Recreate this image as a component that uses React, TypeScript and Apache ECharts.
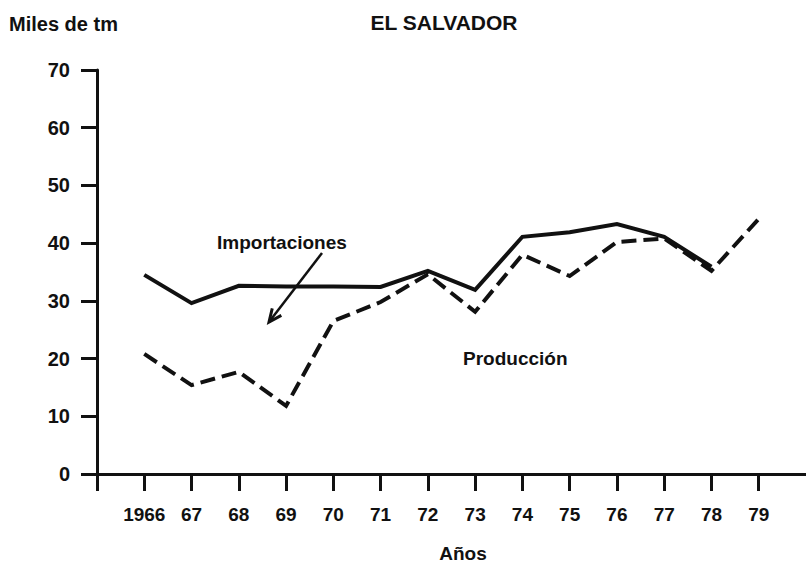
import React, { useEffect, useRef } from "react";
import * as echarts from "echarts";

const years = [1966, 1967, 1968, 1969, 1970, 1971, 1972, 1973, 1974, 1975, 1976, 1977, 1978, 1979];
const yearLabels = ["1966", "67", "68", "69", "70", "71", "72", "73", "74", "75", "76", "77", "78", "79"];
const tickYears = [1965, ...years];
const importaciones = [34.5, 29.6, 32.6, 32.5, 32.5, 32.4, 35.2, 31.9, 41.1, 41.9, 43.3, 41.1, 35.9, null];
const produccion = [20.8, 15.4, 17.7, 11.8, 26.5, 29.8, 34.6, 28.1, 38.0, 34.3, 40.2, 40.8, 35.2, 44.2];
const yTicks = [0, 10, 20, 30, 40, 50, 60, 70];

const FONT = "'Liberation Sans', Arial, Helvetica, sans-serif";
const INK = "#111";

export default function App() {
  const ref = useRef<HTMLDivElement>(null);
  useEffect(() => {
    document.body.style.margin = "0";
    const chart = echarts.init(ref.current!, null, { renderer: "svg" });

    // arrow geometry for the annotation
    const ax0 = 322, ay0 = 253, ax1 = 269, ay1 = 322;
    const ang = Math.atan2(ay1 - ay0, ax1 - ax0);
    const hl = 14, spread = 0.42;
    const w1 = [ax1 - hl * Math.cos(ang - spread), ay1 - hl * Math.sin(ang - spread)];
    const w2 = [ax1 - hl * Math.cos(ang + spread), ay1 - hl * Math.sin(ang + spread)];

    const textStyle = (t: string, x: number, y: number, align = "left", size = 19) => ({
      type: "text",
      x,
      y,
      style: {
        text: t,
        fill: INK,
        font: `bold ${size}px ${FONT}`,
        textAlign: align,
        textVerticalAlign: "middle",
      },
    });

    chart.setOption({
      animation: false,
      backgroundColor: "#fff",
      grid: { left: 97, right: 0, top: 70, bottom: 90, containLabel: false },
      xAxis: {
        type: "value",
        min: 1965,
        max: 1980,
        interval: 1,
        splitLine: { show: false },
        axisLine: { show: true, lineStyle: { color: INK, width: 3 } },
        axisTick: {
          show: true,
          length: 17,
          customValues: tickYears,
          lineStyle: { color: INK, width: 3 },
        },
        axisLabel: {
          customValues: years,
          margin: 31,
          color: INK,
          fontFamily: FONT,
          fontWeight: "bold",
          fontSize: 19,
          formatter: (v: number) => yearLabels[years.indexOf(Math.round(v))] ?? "",
        },
      },
      yAxis: {
        type: "value",
        min: 0,
        max: 70,
        interval: 10,
        splitLine: { show: false },
        axisLine: { show: true, lineStyle: { color: INK, width: 3 } },
        axisTick: { show: true, length: 16, lineStyle: { color: INK, width: 3 } },
        axisLabel: {
          customValues: yTicks,
          margin: 27,
          color: INK,
          fontFamily: FONT,
          fontWeight: "bold",
          fontSize: 20,
        },
      },
      series: [
        {
          name: "Importaciones",
          type: "line",
          symbol: "none",
          data: years.map((y, i) => [y, importaciones[i]]),
          lineStyle: { color: INK, width: 4, type: "solid", join: "miter" },
          z: 3,
        },
        {
          name: "Producción",
          type: "line",
          symbol: "none",
          data: years.map((y, i) => [y, produccion[i]]),
          lineStyle: { color: INK, width: 4, type: [15, 7], join: "miter" },
          z: 2,
        },
      ],
      graphic: [
        textStyle("Miles de tm", 9, 24, "left", 20),
        textStyle("EL SALVADOR", 444, 22, "center", 21),
        textStyle("Importaciones", 217, 242),
        textStyle("Producción", 463, 358),
        textStyle("Años", 463, 553, "center"),
        {
          type: "line",
          shape: { x1: ax0, y1: ay0, x2: ax1, y2: ay1 },
          style: { stroke: INK, lineWidth: 2.5 },
        },
        {
          type: "polyline",
          shape: { points: [w1, [ax1, ay1], w2] },
          style: { stroke: INK, lineWidth: 3, fill: null },
        },
      ],
    });
    return () => chart.dispose();
  }, []);
  return <div ref={ref} style={{ width: 806, height: 564 }} />;
}
